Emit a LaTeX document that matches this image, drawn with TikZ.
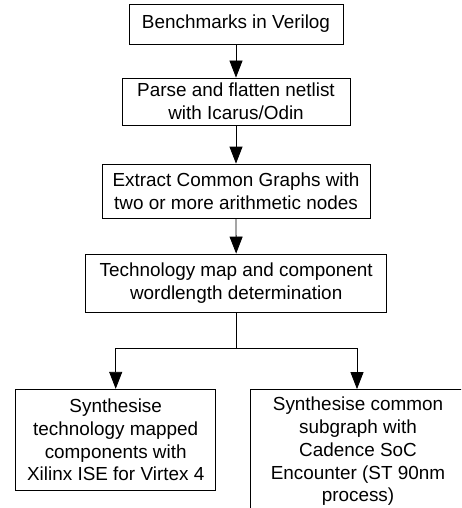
\documentclass[tikz,border=0pt]{standalone}
\usepackage{fontspec}
\setmainfont{Liberation Sans}
\usetikzlibrary{arrows.meta}
\begin{document}
\begin{tikzpicture}[x=1pt,y=-1pt,
  box/.style={draw,line width=0.8pt,align=center,inner sep=0pt,
    font=\fontsize{18.9}{22.7}\selectfont},
  arr/.style={line width=0.8pt,-{Triangle[width=13pt,length=17pt]}},
  ln/.style={line width=0.8pt}]
\clip (0,0) rectangle (461,508);
\fill[white] (0,0) rectangle (461,508);
\node[box,minimum width=214pt,minimum height=40pt] (b1) at (236,24) {Benchmarks in Verilog};
\node[box,minimum width=228pt,minimum height=47pt] (b2) at (236,101.5) {Parse and flatten netlist\\with Icarus/Odin};
\node[box,minimum width=268pt,minimum height=54pt] (b3) at (236,191) {Extract Common Graphs with\\two or more arithmetic nodes};
\node[box,minimum width=301pt,minimum height=58pt] (b4) at (236.2,283) {Technology map and component\\wordlength determination};
\node[box,minimum width=200pt,minimum height=101.5pt] (b5) at (115.7,440) {Synthesise\\technology mapped\\components with\\Xilinx ISE for Virtex 4};
\node[box,minimum width=216pt,minimum height=124pt] (b6) at (358,451.5) {Synthesise common\\subgraph with\\Cadence SoC\\Encounter (ST 90nm\\process)};
\draw[arr] (b1) -- (b2);
\draw[arr] (b2) -- (b3);
\draw[arr] (b3) -- (b4);
\coordinate (j) at (236.2,348);
\coordinate (xr) at (357,0);
\draw[ln] (b4.south) -- (j);
\draw[arr] (j) -| (b5.north);
\draw[arr] (j) -| (xr |- b6.north);
\end{tikzpicture}
\end{document}
